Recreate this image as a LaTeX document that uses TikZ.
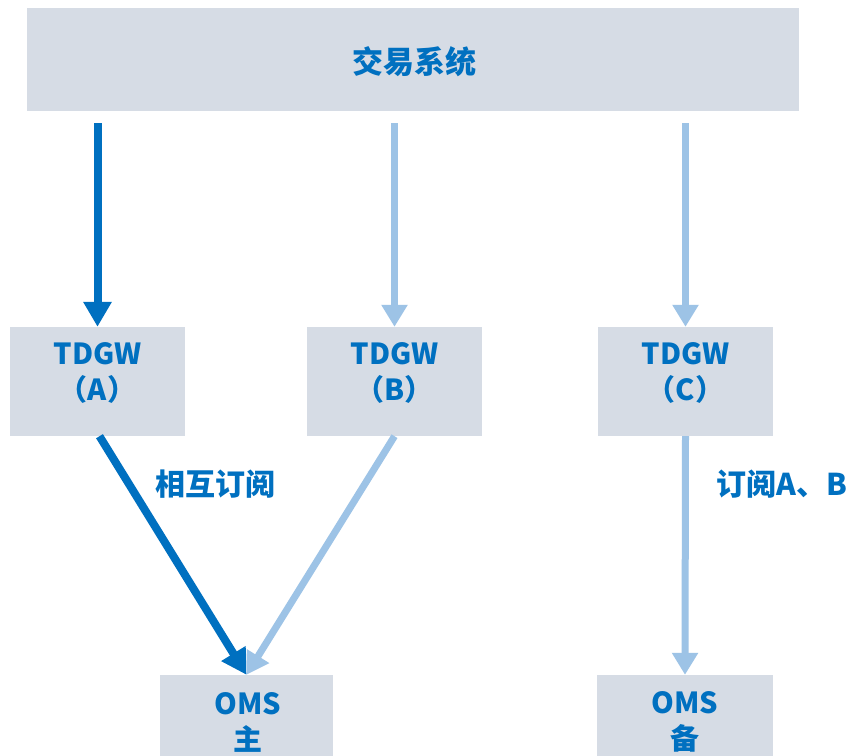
\documentclass[tikz,border=0pt]{standalone}
\usepackage{fontspec}
\setmainfont{Noto Sans CJK SC}
\usetikzlibrary{arrows.meta}
\definecolor{txtblue}{HTML}{0070C0}
\definecolor{darkarr}{HTML}{0070C0}
\definecolor{lightarr}{HTML}{9DC3E6}
\definecolor{boxfill}{HTML}{D6DCE5}
\tikzset{
  gbox/.style={fill=boxfill, draw=none, inner sep=0pt},
  txt/.style={text=txtblue, font=\fontsize{29}{36}\selectfont\bfseries, align=center, inner sep=0pt},
  lbl/.style={text=txtblue, font=\fontsize{30}{34}\selectfont\bfseries, inner sep=0pt, anchor=west},
  darkarrow/.style={draw=darkarr, line width=8pt, -{Triangle[width=27pt,length=25pt]}},
  lightarrow/.style={draw=lightarr, line width=7pt, -{Triangle[width=25pt,length=22pt]}},
}
\begin{document}
\begin{tikzpicture}[x=1pt,y=-1pt]
\useasboundingbox (0,0) rectangle (846,755);
\clip (0,0) rectangle (846,755);
\fill[white] (0,0) rectangle (846,755);
% top box
\node[gbox, minimum width=772pt, minimum height=103pt] (sys) at (413,59.5) {};
\node[txt, font=\fontsize{31}{36}\selectfont\bfseries] (systxt) at (414,62) {交易系统};
% TDGW boxes
\node[gbox, minimum width=175pt, minimum height=109pt] (tA) at (97.5,381.5) {};
\node[gbox, minimum width=175pt, minimum height=109pt] (tB) at (394.5,381.5) {};
\node[gbox, minimum width=175pt, minimum height=109pt] (tC) at (685.5,381.5) {};
\node[txt] (tAt) at (97.5,373) {TDGW\\（A）};
\node[txt] (tBt) at (394.5,373) {TDGW\\（B）};
\node[txt] (tCt) at (685.5,373) {TDGW\\（C）};
% OMS boxes
\node[gbox, minimum width=173pt, minimum height=100pt] (omsA) at (246.5,725) {};
\node[gbox, minimum width=176pt, minimum height=100pt] (omsB) at (685,725) {};
\node[txt] (omsAt) at (248,722) {OMS\\主};
\node[txt] (omsBt) at (685,722) {OMS\\备};
% arrows from system
\draw[darkarrow] ([yshift=-12pt]sys.south -| tA.north) -- (tA.north);
\draw[lightarrow] ([yshift=-12pt]sys.south -| tB.north) -- (tB.north);
\draw[lightarrow] ([yshift=-12pt]sys.south -| tC.north) -- (tC.north);
% lower arrows
\draw[lightarrow] (tB.south) -- (omsA.north);
\draw[darkarrow] ([xshift=2pt]tA.south) -- (omsA.north);
\draw[lightarrow] (tC.south) -- (omsB.north);
% labels
\node[lbl] (l1) at (155,484) {相互订阅};
\node[lbl] (l2) at (716,484) {订阅A、B};
\end{tikzpicture}
\end{document}
